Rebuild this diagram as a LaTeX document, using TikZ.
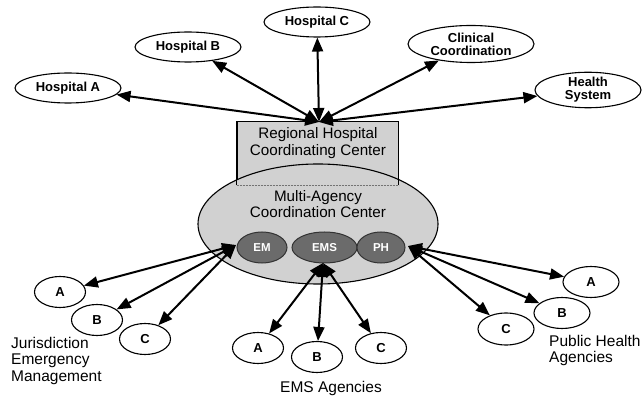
\documentclass[tikz,border=0pt]{standalone}
\usepackage{fontspec}
\setmainfont{Liberation Sans}
\usetikzlibrary{shapes.geometric,arrows.meta}
\tikzset{
  oval/.style={ellipse,draw,line width=1.1pt,fill=white,inner sep=0pt,font=\fontsize{13}{15}\selectfont\bfseries,align=center},
  small/.style={oval,minimum width=51pt,minimum height=31pt},
  big/.style={oval,minimum width=106pt,minimum height=30pt},
  unit/.style={ellipse,draw=black!80,line width=1pt,fill=black!58,text=white,inner sep=0pt,minimum height=31pt,font=\fontsize{11.5}{13}\selectfont\bfseries},
  lbl/.style={font=\fontsize{15.5}{16.5}\selectfont,inner sep=0pt},
  link/.style={line width=2pt,{Triangle[length=14pt,width=11pt]}-{Triangle[length=14pt,width=11pt]}},
}
\begin{document}
\begin{tikzpicture}[x=1pt,y=-1pt]
\useasboundingbox (0,0) rectangle (643,398);
% top hospitals
\node[big] (ha) at (68,88) {Hospital A};
\node[big] (hb) at (188,47) {Hospital B};
\node[big] (hc) at (317,22) {Hospital C};
\node[oval,minimum width=126pt,minimum height=37pt] (cc) at (471,44) {Clinical\\[-2pt]Coordination};
\node[big,minimum height=31pt] (hs) at (588,90) {Health\\[-2pt]System};
% regional box and MACC
\node[draw,line width=1pt,fill=black!18,minimum width=161pt,minimum height=63pt,inner sep=0pt] (rh) at (317.5,153.5) {};
\node[ellipse,draw,line width=1.1pt,fill=black!18,minimum width=240pt,minimum height=120pt,inner sep=0pt] (mac) at (318,224) {};
\draw[line width=1pt] (rh.south west) -- (rh.north west) -- (rh.north east) -- (rh.south east);
\draw[black!55,line width=1pt,dash pattern=on 2pt off 1pt] (rh.south west) -- (rh.south east);
\node[lbl,font=\fontsize{15.2}{16.5}\selectfont,align=center] (rht) at (318,143) {Regional Hospital\\Coordinating Center};
\node[lbl,font=\fontsize{15.2}{16.5}\selectfont,align=center] (mact) at (318,204) {Multi-Agency\\Coordination Center};
\node[unit,minimum width=50pt] (em) at (262,247.5) {EM};
\node[unit,minimum width=65pt] (ems) at (324.5,247.5) {EMS};
\node[unit,minimum width=48pt] (ph) at (381,247.5) {PH};
% hubs
\coordinate (hub) at (319,122);
\coordinate (emhub) at (236,245);
\coordinate (emshub) at (323,263);
\coordinate (phhub) at (408,246);
% lower nodes
\node[small] (ja) at (60,292) {A};
\node[small] (jb) at (97,320) {B};
\node[small] (jc) at (145,339) {C};
\node[small] (ea) at (258,348) {A};
\node[small] (eb) at (317,357) {B};
\node[small] (ec) at (381,348) {C};
\node[small,minimum width=56pt,minimum height=32pt] (pc) at (506,329) {C};
\node[small,minimum width=56pt] (pb) at (562,313) {B};
\node[small,minimum width=56pt] (pa) at (591,282) {A};
% labels
\node[lbl,align=left,anchor=north west] (jl) at (11,337) {Jurisdiction\\Emergency\\Management};
\node[lbl] (el) at (331,388) {EMS Agencies};
\node[lbl,align=left,anchor=north west] (pl) at (549,335) {Public Health\\Agencies};
% connectors
\foreach \t in {ha,hb,hc,cc,hs} \draw[link] (hub) -- (\t);
\foreach \t in {ja,jb,jc} \draw[link] (emhub) -- (\t);
\foreach \t in {ea,eb,ec} \draw[link] (emshub) -- (\t);
\foreach \t in {pa,pb,pc} \draw[link] (phhub) -- (\t);
\end{tikzpicture}
\end{document}
